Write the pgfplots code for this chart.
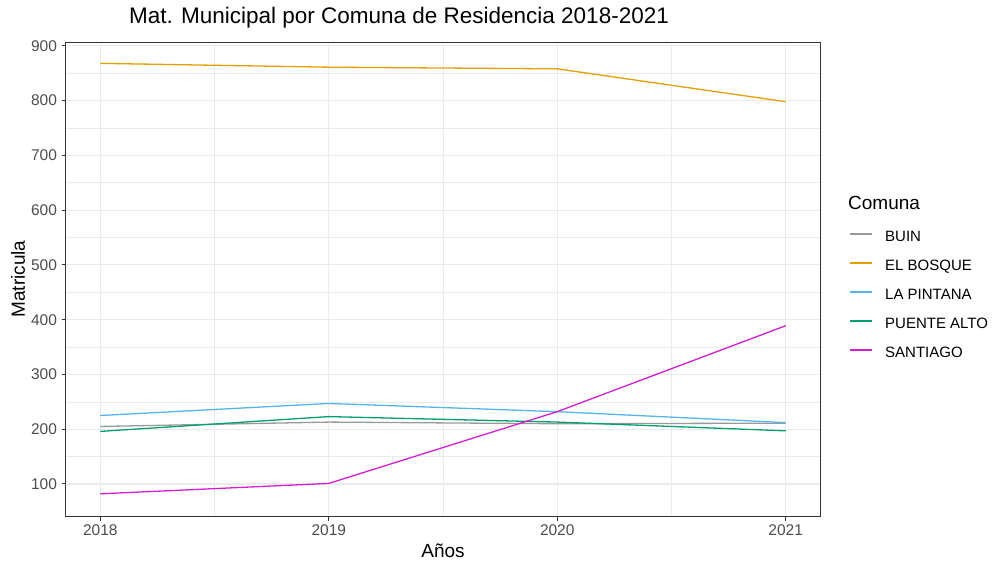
\documentclass[border=0pt]{standalone}
\usepackage{fontspec}
\setmainfont{Liberation Sans}
\usepackage{pgfplots}
\pgfplotsset{compat=1.18}
\definecolor{cBuin}{HTML}{999999}
\definecolor{cBosque}{HTML}{E69F00}
\definecolor{cPintana}{HTML}{56B4E9}
\definecolor{cPuente}{HTML}{009E73}
\definecolor{cSantiago}{HTML}{D41ED4}
\definecolor{gridc}{HTML}{EBEBEB}
\definecolor{borderc}{HTML}{333333}
\definecolor{tickc}{HTML}{4D4D4D}
\tikzset{legnode/.style={anchor=west, inner sep=0pt, text height=10.7pt, text depth=0pt, font=\fontsize{15}{18}\selectfont}}
\begin{document}
\begin{tikzpicture}
\useasboundingbox (0,0) rectangle (992pt,560pt);
\begin{axis}[
  at={(66pt,44pt)}, anchor=south west,
  scale only axis, width=754pt, height=474pt,
  clip=false,
  xmin=2017.85, xmax=2021.15, ymin=41.5, ymax=907,
  xtick={2018,2019,2020,2021},
  minor xtick={2018.5,2019.5,2020.5},
  ytick={100,200,300,400,500,600,700,800,900},
  minor ytick={150,250,350,450,550,650,750,850},
  xtick pos=left, ytick pos=left,
  grid=both,
  major grid style={color=gridc, line width=1.1pt},
  minor grid style={color=gridc, line width=0.6pt},
  axis line style={color=borderc, line width=1pt},
  tick align=outside,
  major tick length=4.5pt, minor tick length=0pt,
  every tick/.style={color=borderc, line width=1pt},
  /pgf/number format/assume math mode=true,
  /pgf/number format/1000 sep={},
  tick label style={font=\fontsize{15.5}{18}\selectfont, color=tickc},
  xticklabel style={yshift=-1pt},
  yticklabel style={xshift=-1pt},
  xlabel={Años}, ylabel={Matricula},
  every axis x label/.style={at={(rel axis cs:0.5,-0.0738)}, anchor=center, font=\fontsize{19}{22}\selectfont},
  every axis y label/.style={at={(rel axis cs:-0.0637,0.5)}, anchor=center, rotate=90, font=\fontsize{19}{22}\selectfont},
  title={Mat. Municipal por Comuna de Residencia 2018-2021},
  every axis title/.style={at={(rel axis cs:0.4416,1.0506)}, anchor=center, font=\fontsize{22.5}{26}\selectfont},
]
\addplot[color=cBuin, line width=1.3pt] coordinates {(2018,205) (2019,213) (2020,210) (2021,211)};
\addplot[color=cBosque, line width=1.3pt] coordinates {(2018,868) (2019,861) (2020,858) (2021,798)};
\addplot[color=cPintana, line width=1.3pt] coordinates {(2018,225) (2019,247) (2020,232) (2021,212)};
\addplot[color=cPuente, line width=1.3pt] coordinates {(2018,196) (2019,223) (2020,213) (2021,197)};
\addplot[color=cSantiago, line width=1.3pt] coordinates {(2018,82) (2019,101) (2020,232) (2021,389)};
% legend
\node[anchor=west, font=\fontsize{19}{22}\selectfont, inner sep=0pt] at (rel axis cs:1.0371,0.6603) {Comuna};
\draw[cBuin, line width=1.6pt] (rel axis cs:1.0398,0.5949) -- (rel axis cs:1.069,0.5949);
\node[legnode] at (rel axis cs:1.0862,0.5907) {BUIN};
\draw[cBosque, line width=1.6pt] (rel axis cs:1.0398,0.5337) -- (rel axis cs:1.069,0.5337);
\node[legnode] at (rel axis cs:1.0862,0.5295) {EL BOSQUE};
\draw[cPintana, line width=1.6pt] (rel axis cs:1.0398,0.4726) -- (rel axis cs:1.069,0.4726);
\node[legnode] at (rel axis cs:1.0862,0.4684) {LA PINTANA};
\draw[cPuente, line width=1.6pt] (rel axis cs:1.0398,0.4114) -- (rel axis cs:1.069,0.4114);
\node[legnode] at (rel axis cs:1.0862,0.4072) {PUENTE ALTO};
\draw[cSantiago, line width=1.6pt] (rel axis cs:1.0398,0.3502) -- (rel axis cs:1.069,0.3502);
\node[legnode] at (rel axis cs:1.0862,0.3460) {SANTIAGO};
\end{axis}
\end{tikzpicture}
\end{document}
